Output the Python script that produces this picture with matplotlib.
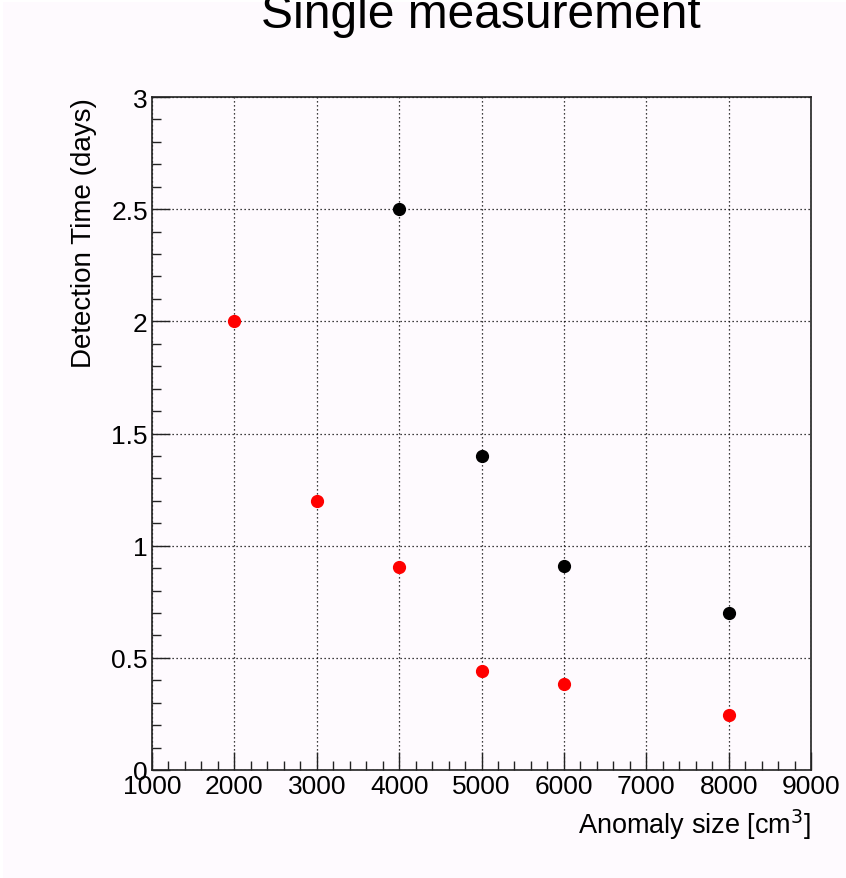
import matplotlib
matplotlib.use("Agg")
import matplotlib.pyplot as plt
from matplotlib.patches import Rectangle
from matplotlib.ticker import MultipleLocator

plt.rcParams['font.family'] = ['Liberation Sans', 'DejaVu Sans']

# detection times vs. anomaly size
size_black = [4000, 5000, 6000, 8000]
time_black = [2.5, 1.4, 0.91, 0.70]
size_red = [2000, 3000, 4000, 5000, 6000, 8000]
time_red = [2.0, 1.2, 0.905, 0.44, 0.385, 0.245]

bg = '#fefafe'

fig = plt.figure(figsize=(8.46, 8.79), dpi=100, facecolor='white')
fig.patches.append(Rectangle((3 / 846, 0), 1, 1 - 3 / 879, transform=fig.transFigure,
                             facecolor=bg, edgecolor='none', zorder=-10))

ax = fig.add_axes([152 / 846, 108 / 879, 659 / 846, 673 / 879])
ax.set_facecolor(bg)

ax.plot(size_black, time_black, 'o', color='black', markersize=8.5, zorder=3)
ax.plot(size_red, time_red, 'o', color='red', markersize=8.5, zorder=3)

ax.set_xlim(1000, 9000)
ax.set_ylim(0, 3)
ax.xaxis.set_major_locator(MultipleLocator(1000))
ax.xaxis.set_minor_locator(MultipleLocator(200))
ax.set_yticks([0, 0.5, 1, 1.5, 2, 2.5, 3])
ax.set_yticklabels(['0', '0.5', '1', '1.5', '2', '2.5', '3'])
ax.yaxis.set_minor_locator(MultipleLocator(0.1))

ax.tick_params(which='both', direction='in', top=False, right=False, color='#222222', width=1)
ax.tick_params(which='major', length=13, labelsize=19, pad=3)
ax.tick_params(which='minor', length=6.5)
for s in ax.spines.values():
    s.set_linewidth(1.2)
    s.set_color('#222222')

ax.grid(True, which='major', color='black', linestyle=(0, (1, 2.2)), linewidth=0.9)
ax.set_axisbelow(True)

ax.set_xlabel('Anomaly size [cm$^3$]', fontsize=19.5, loc='right', labelpad=6)
ax.set_ylabel('Detection Time (days)', fontsize=20, loc='top', labelpad=10)

fig.text(481 / 846, 1 - 28 / 879, 'Single measurement', fontsize=34.5,
         ha='center', va='baseline')

fig.savefig('out.png', dpi=100, facecolor=fig.get_facecolor())
